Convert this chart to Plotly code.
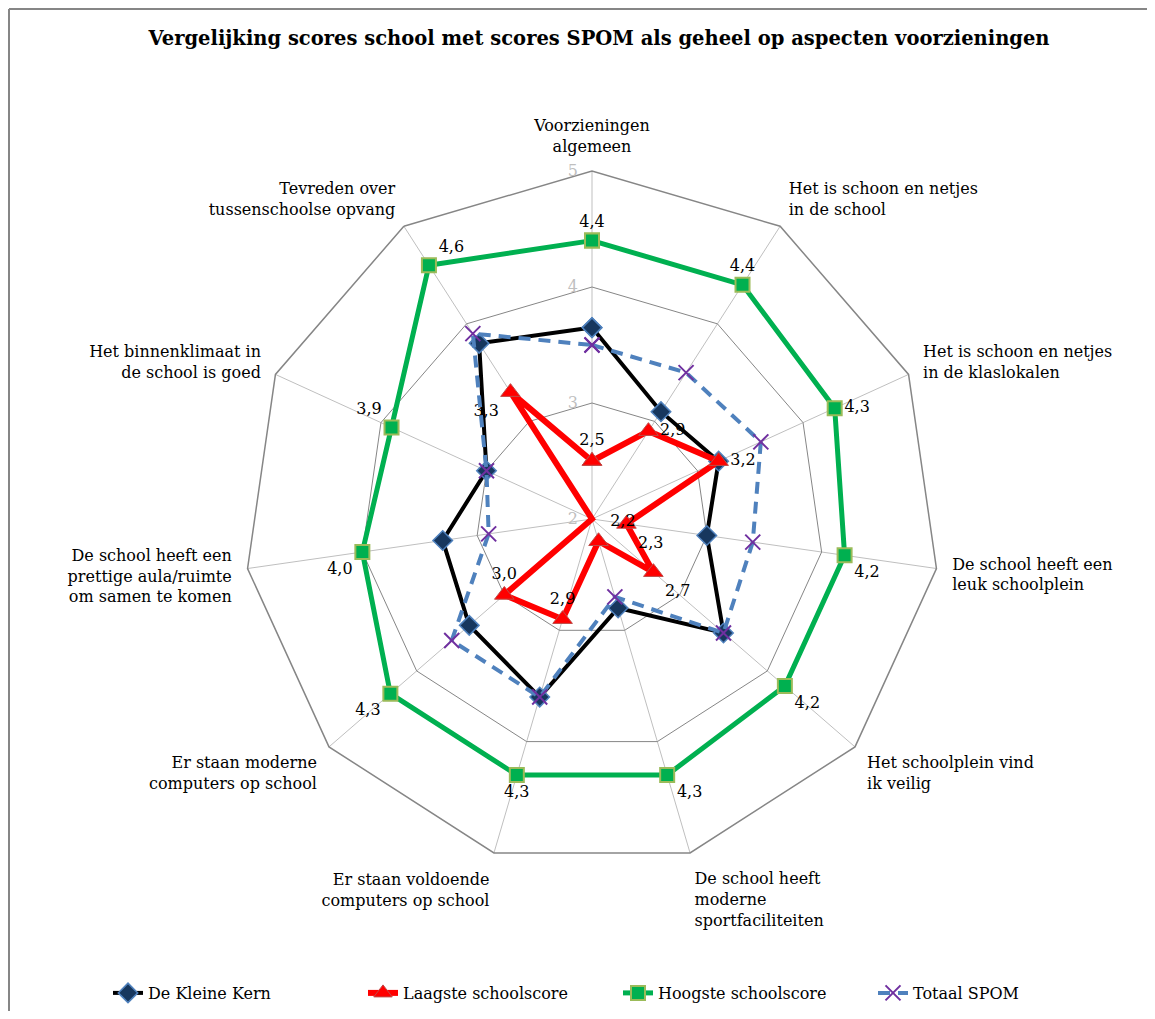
import plotly.graph_objects as go

categories = [
    "Voorzieningen<br>algemeen",
    "Het is schoon en netjes<br>in de school",
    "Het is schoon en netjes<br>in de klaslokalen",
    "De school heeft een<br>leuk schoolplein",
    "Het schoolplein vind<br>ik veilig",
    "De school heeft<br>moderne<br>sportfaciliteiten",
    "Er staan voldoende<br>computers op school",
    "Er staan moderne<br>computers op school",
    "De school heeft een<br>prettige aula/ruimte<br>om samen te komen",
    "Het binnenklimaat in<br>de school is goed",
    "Tevreden over<br>tussenschoolse opvang",
]

kleine_kern = [3.65, 3.1, 3.2, 3.0, 3.5, 2.8, 3.6, 3.4, 3.3, 3.0, 3.8]
laagste = [2.5, 2.9, 3.2, 2.3, 2.7, 2.2, 2.9, 3.0, 2.0, 1.9, 3.3]
hoogste = [4.4, 4.4, 4.3, 4.2, 4.2, 4.3, 4.3, 4.3, 4.0, 3.9, 4.6]
totaal_spom = [3.5, 3.5, 3.6, 3.4, 3.5, 2.7, 3.6, 3.6, 2.9, 3.0, 3.9]

# which red labels are shown in the original
laagste_show = [True, True, True, True, True, True, True, True, False, False, True]

FONT = "DejaVu Serif"
OFF = 8  # page body margin
W, H = 1155 - 2 * OFF, 1019 - 2 * OFF


def fmt(v):
    return ("%.1f" % v).replace(".", ",")


def closed(values):
    return list(values) + [values[0]]


theta = closed(categories)

green_pos = ["top center", "top center", "middle right", "bottom right",
             "bottom right", "bottom right", "bottom center", "bottom left",
             "bottom left", "top left", "top right"]
red_pos = ["top center", "middle right", "middle right", "bottom right",
           "bottom right", "top right", "top center", "top center",
           "top center", "top center", "bottom left"]

fig = go.Figure()

fig.add_trace(go.Scatterpolar(
    r=closed(kleine_kern), theta=theta, mode="lines+markers",
    name="De Kleine Kern",
    line=dict(color="black", width=4),
    marker=dict(symbol="diamond", size=15, color="#17375e",
                line=dict(color="#4f81bd", width=1.5)),
))

fig.add_trace(go.Scatterpolar(
    r=closed(laagste), theta=theta, mode="lines+markers+text",
    name="Laagste schoolscore",
    text=[fmt(v) if s else "" for v, s in zip(laagste, laagste_show)] + [""],
    textposition=red_pos + ["top center"],
    textfont=dict(family=FONT, size=16, color="black"),
    line=dict(color="#ff0000", width=6),
    marker=dict(symbol="triangle-up", size=17, color="#ff0000",
                line=dict(color="#be4b48", width=1)),
))

fig.add_trace(go.Scatterpolar(
    r=closed(hoogste), theta=theta, mode="lines+markers+text",
    name="Hoogste schoolscore",
    text=[fmt(v) for v in hoogste] + [""],
    textposition=green_pos + ["top center"],
    textfont=dict(family=FONT, size=16, color="black"),
    line=dict(color="#00b050", width=5),
    marker=dict(symbol="square", size=14, color="#00b050",
                line=dict(color="#9bbb59", width=2)),
))

fig.add_trace(go.Scatterpolar(
    r=closed(totaal_spom), theta=theta, mode="lines+markers",
    name="Totaal SPOM",
    line=dict(color="#4f81bd", width=4, dash="12px,8px"),
    marker=dict(symbol="x-thin", size=15, color="#7030a0",
                line=dict(color="#7030a0", width=2)),
))

cx, cy, rad = 592 - OFF, 519 - OFF, 348

# chart border: only left and top edges are visible in the original
border = dict(color="#868686", width=2)

fig.update_layout(
    width=W, height=H,
    margin=dict(l=0, r=0, t=0, b=0),
    paper_bgcolor="white",
    font=dict(family=FONT, size=16, color="black"),
    title=dict(
        text="<b>Vergelijking scores school met scores SPOM als geheel op aspecten voorzieningen</b>",
        x=(599 - OFF) / W, xanchor="center", y=1 - (38 - OFF) / H, yanchor="middle",
        font=dict(family=FONT, size=19.5, color="black"),
    ),
    polar=dict(
        domain=dict(x=[(cx - rad) / W, (cx + rad) / W],
                    y=[(H - cy - rad) / H, (H - cy + rad) / H]),
        gridshape="linear",
        bgcolor="white",
        radialaxis=dict(
            range=[2, 5], tickvals=[2, 3, 4, 5], angle=90, tickangle=90,
            showline=False, gridcolor="#868686", gridwidth=1.2,
            tickfont=dict(color="#bfbfbf", size=16),
            ticks="outside", ticklen=8, tickcolor="rgba(0,0,0,0)",
            side="counterclockwise",
        ),
        angularaxis=dict(
            direction="clockwise", rotation=90,
            linecolor="#868686", linewidth=1.5, showline=True,
            gridcolor="#bfbfbf", gridwidth=1.2,
            ticks="outside", ticklen=12, tickcolor="rgba(0,0,0,0)",
            tickfont=dict(size=16, color="black"),
        ),
    ),
    legend=dict(
        orientation="h", x=100 / W, xanchor="left",
        y=(H - (993 - OFF)) / H, yanchor="middle",
        font=dict(size=16), entrywidth=210, entrywidthmode="pixels",
    ),
    shapes=[
        dict(type="line", xref="paper", yref="paper",
             x0=1 / W, x1=1 / W, y0=0, y1=1 - 1 / H, line=border),
        dict(type="line", xref="paper", yref="paper",
             x0=1 / W, x1=1, y0=1 - 1 / H, y1=1 - 1 / H, line=border),
    ],
)

fig.write_html("out.html")
